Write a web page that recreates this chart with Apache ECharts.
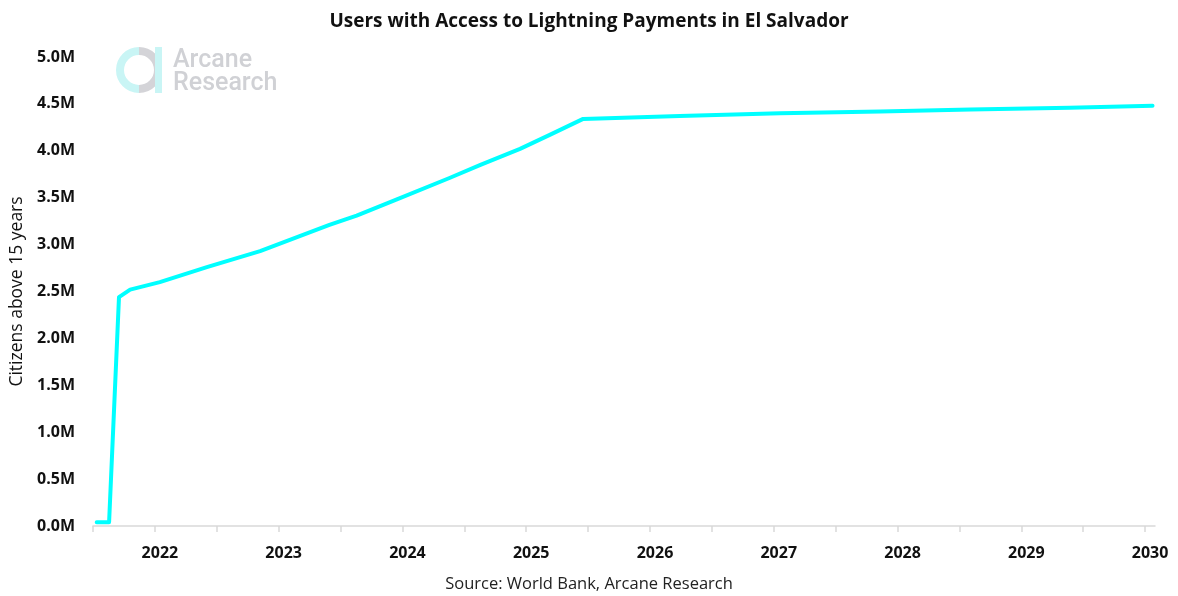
<!DOCTYPE html>
<html>
<head>
<meta charset="utf-8">
<script src="https://cdn.jsdelivr.net/npm/echarts@6/dist/echarts.min.js"></script>
<style>
  html, body { margin: 0; padding: 0; background: #fff; }
  #chart { width: 1178px; height: 596px; }
</style>
</head>
<body>
<div id="chart"></div>
<script>
// decimal year -> users (millions)
const years = [2021.53, 2021.63, 2021.71, 2021.80, 2022.04, 2022.42, 2022.85, 2023.17, 2023.41, 2023.63, 2023.95, 2024.38, 2024.63, 2024.95, 2025.19, 2025.46, 2026.24, 2027.05, 2027.86, 2028.59, 2029.39, 2030.06]
const users = [0.04, 0.04, 2.44, 2.52, 2.60, 2.76, 2.93, 3.09, 3.21, 3.31, 3.48, 3.71, 3.85, 4.02, 4.17, 4.34, 4.37, 4.40, 4.42, 4.44, 4.46, 4.48]

const tickYears = [2021.5, 2022, 2022.5, 2023, 2023.5, 2024, 2024.5, 2025, 2025.5, 2026, 2026.5, 2027, 2027.5, 2028, 2028.5, 2029, 2029.5, 2030]
const labelYears = [2022, 2023, 2024, 2025, 2026, 2027, 2028, 2029, 2030]

const font = "'Open Sans', 'Noto Sans', sans-serif"

const chart = echarts.init(document.getElementById('chart'))

const option = {
  animation: false,
  title: {
    text: 'Users with Access to Lightning Payments in El Salvador',
    left: 'center',
    top: 7,
    textStyle: { fontFamily: font, fontSize: 19, fontWeight: 'bold', color: '#111' }
  },
  grid: {
    left: 93,
    right: 23,
    top: 57,
    bottom: 70
  },
  xAxis: {
    type: 'value',
    min: 2021.5,
    max: 2030.08,
    splitLine: { show: false },
    axisLine: { show: true, lineStyle: { color: '#d9d9d9', width: 1.5 } },
    axisTick: {
      show: true,
      customValues: tickYears,
      length: 6,
      lineStyle: { color: '#d9d9d9', width: 1.5 }
    },
    axisLabel: {
      customValues: labelYears,
      margin: 19,
      padding: [0, 0, 0, 10],
      fontFamily: font,
      fontSize: 16,
      fontWeight: 'bold',
      color: '#111',
      formatter: v => String(v)
    }
  },
  yAxis: {
    type: 'value',
    min: 0,
    max: 5,
    interval: 0.5,
    name: 'Citizens above 15 years',
    nameLocation: 'middle',
    nameGap: 64,
    nameTextStyle: { fontFamily: font, fontSize: 17.5, color: '#111' },
    splitLine: { show: false },
    axisLine: { show: false },
    axisTick: { show: false },
    axisLabel: {
      margin: 18,
      fontFamily: font,
      fontSize: 16,
      fontWeight: 'bold',
      color: '#111',
      formatter: v => v.toFixed(1) + 'M'
    }
  },
  series: [
    {
      type: 'line',
      data: years.map((y, i) => [y, users[i]]),
      showSymbol: false,
      lineStyle: { color: '#00ffff', width: 4, cap: 'round', join: 'round' }
    }
  ],
  graphic: [
    // Arcane Research watermark
    {
      type: 'arc',
      shape: { cx: 139, cy: 70, r: 19, startAngle: Math.PI / 2, endAngle: Math.PI * 1.5 },
      style: { stroke: '#c9f5f5', lineWidth: 8, fill: null }
    },
    {
      type: 'arc',
      shape: { cx: 139, cy: 70, r: 19, startAngle: -Math.PI / 2, endAngle: Math.PI / 2 },
      style: { stroke: '#d4d4d8', lineWidth: 8, fill: null }
    },
    {
      type: 'rect',
      shape: { x: 155, y: 47, width: 7, height: 46 },
      style: { fill: '#c9f5f5' }
    },
    {
      type: 'text',
      style: {
        x: 173, y: 61,
        text: 'Arcane',
        font: "500 25px Roboto, 'Liberation Sans', sans-serif",
        verticalAlign: 'middle',
        fill: '#d0d1d5'
      }
    },
    {
      type: 'text',
      style: {
        x: 173, y: 84,
        text: 'Research',
        font: "500 25px Roboto, 'Liberation Sans', sans-serif",
        verticalAlign: 'middle',
        fill: '#d0d1d5'
      }
    },
    {
      type: 'text',
      left: 'center',
      top: 576,
      style: {
        text: 'Source: World Bank, Arcane Research',
        font: "16.5px 'Open Sans', sans-serif",
        fill: '#222'
      }
    }
  ]
}

chart.setOption(option)
</script>
</body>
</html>
